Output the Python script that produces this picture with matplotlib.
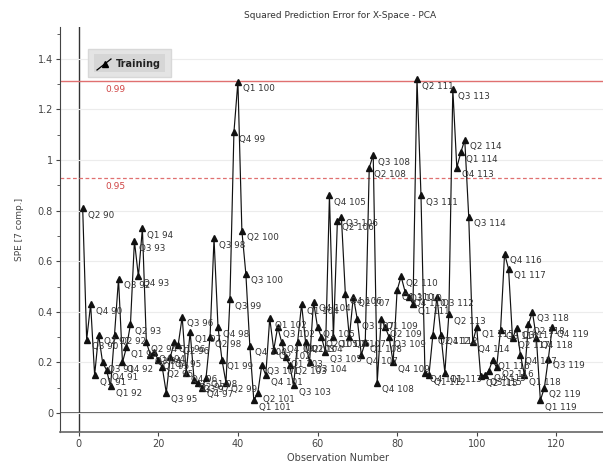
import matplotlib.pyplot as plt
from matplotlib.lines import Line2D
from matplotlib.patches import Rectangle
from matplotlib.ticker import MultipleLocator

# Observacoes (1..119) e valores de SPE
obs = list(range(1, 120))
spe = [0.81, 0.29, 0.43, 0.15, 0.31, 0.20, 0.17, 0.105, 0.31, 0.53,
       0.20, 0.26, 0.35, 0.68, 0.54, 0.73, 0.28, 0.23, 0.24, 0.21,
       0.18, 0.08, 0.22, 0.28, 0.27, 0.38, 0.16, 0.32, 0.13, 0.12,
       0.10, 0.14, 0.30, 0.69, 0.34, 0.21, 0.12, 0.45, 1.11, 1.31,
       0.72, 0.55, 0.265, 0.05, 0.08, 0.19, 0.15, 0.375, 0.25, 0.34,
       0.28, 0.22, 0.19, 0.11, 0.28, 0.43, 0.28, 0.20, 0.44, 0.34,
       0.30, 0.24, 0.86, 0.30, 0.76, 0.775, 0.47, 0.30, 0.46, 0.37,
       0.23, 0.28, 0.97, 1.02, 0.12, 0.37, 0.34, 0.30, 0.20, 0.485,
       0.54, 0.48, 0.46, 0.43, 1.32, 0.86, 0.16, 0.15, 0.31, 0.46,
       0.31, 0.16, 0.39, 1.28, 0.97, 1.03, 1.08, 0.775, 0.28, 0.34,
       0.145, 0.15, 0.165, 0.21, 0.18, 0.33, 0.63, 0.57, 0.295, 0.335,
       0.23, 0.15, 0.35, 0.40, 0.295, 0.05, 0.10, 0.215, 0.34]

# rotulos trimestrais: obs 0 = Q1 90
labels = [f"Q{i % 4 + 1} {90 + i // 4}" for i in obs]

limit_99 = 1.312
limit_95 = 0.929

y_ticks = [0, 0.2, 0.4, 0.6, 0.8, 1.0, 1.2, 1.4]
y_tick_labels = ["0", "0.2", "0.4", "0.6", "0.8", "1", "1.2", "1.4"]
x_ticks = [0, 20, 40, 60, 80, 100, 120]

W, H = 603, 462
fig = plt.figure(figsize=(W / 100, H / 100), dpi=100)
ax = fig.add_axes([60 / W, 30 / H, 556 / W, 405 / H])

# linhas de referencia
ax.axhline(0, color='#555555', linewidth=1.3, zorder=1)
ax.axvline(0, color='#333333', linewidth=1.0, zorder=1)
ax.axhline(limit_99, color='#e07070', linewidth=1.0, zorder=1)
ax.axhline(limit_95, color='#e07070', linewidth=0.9, linestyle=(0, (3, 2)), zorder=1)
ax.text(6.6, limit_99 - 0.032, "0.99", color='#d04545', fontsize=6.5, va='center')
ax.text(6.6, limit_95 - 0.032, "0.95", color='#d04545', fontsize=6.5, va='center')

# serie principal
ax.plot(obs, spe, color='#111111', linewidth=0.85, marker='^', markersize=4.2, zorder=3)
for x, y, lab in zip(obs, spe, labels):
    ax.annotate(lab, (x, y), xytext=(5, -7), textcoords='offset pixels',
                fontsize=6.3, color='#333333', va='center', ha='left', zorder=4)

ax.set_xlim(-4.7, 135)
ax.set_ylim(-0.075, 1.526)
ax.set_xticks(x_ticks)
ax.set_yticks(y_ticks)
ax.set_yticklabels(y_tick_labels)
ax.yaxis.set_minor_locator(MultipleLocator(0.1))
ax.tick_params(axis='both', labelsize=7, colors='#444444', length=3, width=0.8, pad=2)
ax.tick_params(axis='y', which='minor', length=2, colors='#444444')
ax.grid(axis='y', color='#ececec', linewidth=0.8, zorder=0)
for side in ['top', 'right']:
    ax.spines[side].set_visible(False)
ax.spines['left'].set_color('#444444')
ax.spines['bottom'].set_color('#666666')
ax.spines['bottom'].set_linewidth(1.2)

ax.set_xlabel("Observation Number", fontsize=7, color='#444444', labelpad=3)
ax.set_ylabel("SPE [7 comp.]", fontsize=6.5, color='#444444', labelpad=10)
fig.text(340 / W, 1 - 16 / H, "Squared Prediction Error for X-Space - PCA",
         fontsize=6.5, color='#333333', ha='center', va='center')

# caixa da legenda
fig.patches.append(Rectangle((88 / W, 1 - 77 / H), 83 / W, 28 / H, transform=fig.transFigure,
                             facecolor='#e4e4e4', edgecolor='#d8d8d8', zorder=5))
fig.patches.append(Rectangle((94 / W, 1 - 72 / H), 71 / W, 18 / H, transform=fig.transFigure,
                             facecolor='#d6d6d6', edgecolor='none', zorder=5))
fig.lines.append(Line2D([97 / W, 111 / W], [1 - 70 / H, 1 - 59 / H], transform=fig.transFigure,
                        color='black', linewidth=0.9, zorder=6))
fig.lines.append(Line2D([105 / W], [1 - 64 / H], transform=fig.transFigure, color='black',
                        marker='^', markersize=4.5, zorder=6))
fig.text(116 / W, 1 - 64 / H, "Training", fontsize=7, fontweight='bold', color='#222222',
         va='center', ha='left', zorder=6)

plt.savefig('out.png', dpi=100)
